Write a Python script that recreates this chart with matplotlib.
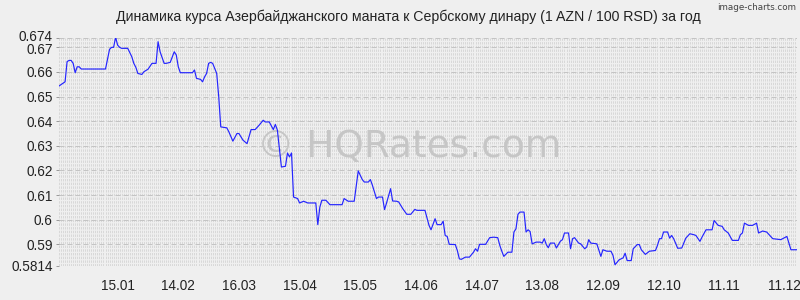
import numpy as np
import matplotlib.pyplot as plt
import matplotlib.transforms as mtransforms

# day index from start of the period and AZN/RSD rate
days = [0, 2, 3, 4, 5, 6, 7, 8, 9, 10, 11, 23, 25, 26, 27, 28, 29, 30, 31, 34,
        36, 37, 38, 39, 41, 42, 44, 46, 48, 49, 50, 52, 53, 55, 57, 58, 59, 60,
        66, 67, 68, 70, 71, 72, 73, 74, 75, 76, 78, 79, 80, 83, 84, 86, 88, 89,
        91, 93, 95, 97, 99, 101, 102, 104, 106, 107, 108, 110, 112, 113, 114,
        115, 116, 118, 119, 121, 123, 127, 128, 129, 130, 132, 134, 140, 141,
        143, 146, 148, 150, 151, 153, 154, 155, 157, 158, 160, 161, 162, 164,
        165, 167, 168, 170, 172, 174, 176, 177, 181, 183, 184, 186, 187, 189,
        190, 191, 192, 193, 196, 197, 198, 199, 201, 203, 205, 206, 207, 208,
        211, 213, 215, 217, 218, 219, 220, 222, 224, 225, 226, 227, 228, 230,
        231, 232, 233, 234, 236, 238, 239, 240, 241, 242, 243, 245, 246, 248,
        249, 250, 252, 253, 254, 255, 257, 258, 260, 261, 262, 263, 266, 268,
        269, 271, 273, 274, 275, 277, 279, 280, 281, 283, 284, 286, 287, 288,
        290, 292, 295, 296, 297, 298, 299, 301, 302, 303, 304, 306, 308, 310,
        312, 314, 315, 317, 318, 320, 323, 324, 326, 328, 329, 331, 333, 336,
        337, 338, 339, 341, 343, 345, 346, 348, 350, 353, 357, 360, 362, 365]
rate = [0.6543, 0.6554, 0.6560, 0.6642, 0.6647, 0.6647, 0.6635, 0.6597, 0.6621,
        0.6621, 0.6612, 0.6612, 0.6692, 0.6700, 0.6700, 0.6741, 0.6709, 0.6700,
        0.6696, 0.6696, 0.6662, 0.6635, 0.6619, 0.6594, 0.6590, 0.6601, 0.6611,
        0.6635, 0.6635, 0.6723, 0.6682, 0.6635, 0.6635, 0.6639, 0.6682, 0.6669,
        0.6621, 0.6597, 0.6597, 0.6608, 0.6574, 0.6570, 0.6560, 0.6580, 0.6594,
        0.6635, 0.6639, 0.6635, 0.6594, 0.6499, 0.6377, 0.6373, 0.6357, 0.6319,
        0.6350, 0.6350, 0.6323, 0.6309, 0.6366, 0.6366, 0.6384, 0.6404, 0.6397,
        0.6397, 0.6366, 0.6387, 0.6364, 0.6214, 0.6217, 0.6271, 0.6255, 0.6271,
        0.6092, 0.6086, 0.6068, 0.6075, 0.6068, 0.6068, 0.5980, 0.6051, 0.6079,
        0.6079, 0.6061, 0.6061, 0.6086, 0.6075, 0.6075, 0.6198, 0.6163, 0.6153,
        0.6153, 0.6163, 0.6140, 0.6086, 0.6092, 0.6092, 0.6041, 0.6068, 0.6126,
        0.6076, 0.6075, 0.6072, 0.6045, 0.6022, 0.6022, 0.6042, 0.6038, 0.6038,
        0.5977, 0.5959, 0.6004, 0.5980, 0.5980, 0.5994, 0.5936, 0.5932, 0.5900,
        0.5899, 0.5875, 0.5841, 0.5839, 0.5848, 0.5848, 0.5868, 0.5882, 0.5872,
        0.5900, 0.5900, 0.5927, 0.5929, 0.5927, 0.5896, 0.5872, 0.5851, 0.5868,
        0.5868, 0.5950, 0.5963, 0.6022, 0.6031, 0.6031, 0.5950, 0.5959, 0.5952,
        0.5902, 0.5909, 0.5909, 0.5905, 0.5923, 0.5899, 0.5886, 0.5905, 0.5905,
        0.5885, 0.5913, 0.5919, 0.5946, 0.5946, 0.5882, 0.5923, 0.5927, 0.5905,
        0.5902, 0.5882, 0.5889, 0.5919, 0.5905, 0.5902, 0.5851, 0.5878, 0.5872,
        0.5872, 0.5855, 0.5817, 0.5837, 0.5845, 0.5864, 0.5834, 0.5834, 0.5882,
        0.5899, 0.5899, 0.5878, 0.5859, 0.5872, 0.5875, 0.5896, 0.5923, 0.5923,
        0.5950, 0.5950, 0.5925, 0.5936, 0.5923, 0.5884, 0.5885, 0.5925, 0.5943,
        0.5939, 0.5936, 0.5912, 0.5929, 0.5959, 0.5959, 0.5997, 0.5977, 0.5973,
        0.5959, 0.5946, 0.5916, 0.5916, 0.5939, 0.5946, 0.5986, 0.5977, 0.5977,
        0.5986, 0.5946, 0.5954, 0.5950, 0.5923, 0.5919, 0.5932, 0.5878, 0.5878]

xtick_days = [29, 59, 89, 119, 149, 179, 209, 239, 269, 299, 329, 359]
xtick_labels = ["15.01", "14.02", "16.03", "15.04", "15.05", "14.06", "14.07",
                "13.08", "12.09", "12.10", "11.11", "11.12"]
ytick_vals = [0.5814, 0.59, 0.6, 0.61, 0.62, 0.63, 0.64, 0.65, 0.66, 0.67, 0.674]
ytick_labels = ["0.5814", "0.59", "0.6", "0.61", "0.62", "0.63", "0.64", "0.65",
                "0.66", "0.67", "0.674"]

plt.rcParams['font.family'] = ['Liberation Sans', 'DejaVu Sans']

bg = "#efefef"
fig = plt.figure(figsize=(8, 3), dpi=100, facecolor=bg)
ax = fig.add_axes([0.07375, 0.115, 0.9225, 0.76], facecolor=bg)

ymin, ymax = 0.5814, 0.674
ax.set_xlim(0, 365)
ax.set_ylim(ymin, ymax)

# dense texture grid: dashed vertical lines, one per day
ax.vlines(np.arange(0, 366, 1), ymin, ymax, colors="#d8d8d8", linewidth=0.72,
          linestyles=[(0, (2.4, 1.3))], zorder=0)
# major horizontal dashed lines
for v in ytick_vals:
    ax.axhline(v, color="#c4c4c4", linewidth=0.72, linestyle=(0, (5, 3)), zorder=0)

# watermark
ax.text(0.475, 0.52, "© HQRates.com", transform=ax.transAxes, fontsize=27,
        color="#c6c6c6", ha="center", va="center", family="DejaVu Sans", zorder=1)

ax.plot(days, rate, color="#2424ff", linewidth=0.85, zorder=3)

for s in ax.spines.values():
    s.set_visible(False)

ax.set_xticks(xtick_days)
ax.set_xticklabels(xtick_labels)
ax.set_yticks(ytick_vals)
ax.set_yticklabels(ytick_labels)
ax.tick_params(axis="x", length=0, pad=10, labelsize=9.8, labelcolor="#222222")
ax.tick_params(axis="y", length=2.5, width=0.7, color="#999999", pad=2,
               labelsize=9.8, labelcolor="#222222")

# the two top labels sit very close, nudge them apart a little
ylabs = ax.get_yticklabels()
ylabs[-1].set_transform(ylabs[-1].get_transform() +
                        mtransforms.ScaledTranslation(0, 2 / 100, fig.dpi_scale_trans))
ylabs[-2].set_transform(ylabs[-2].get_transform() +
                        mtransforms.ScaledTranslation(0, -1 / 100, fig.dpi_scale_trans))

fig.text(0.51, 0.943, "Динамика курса Азербайджанского маната к Сербскому динару (1 AZN / 100 RSD) за год",
         ha="center", va="center", fontsize=10.2, color="#222222")
fig.text(0.995, 0.975, "image-charts.com", ha="right", va="center", fontsize=6.3,
         color="#444444", family="DejaVu Sans")

fig.savefig("out.png", dpi=100, facecolor=bg)
